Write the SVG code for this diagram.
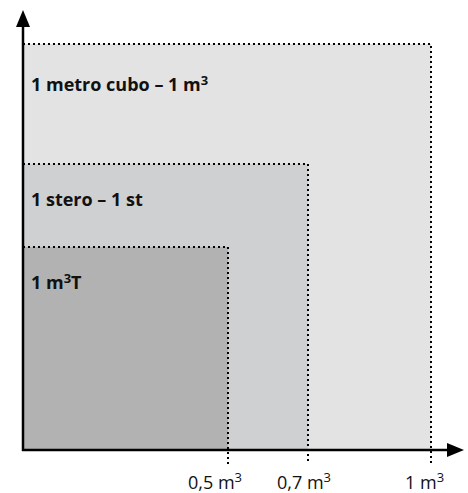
<svg xmlns="http://www.w3.org/2000/svg" width="468" height="493" viewBox="0 0 468 493">
<defs>
<style>
.dot{fill:none;stroke:#000;stroke-width:2;stroke-dasharray:2 3}
.ax{stroke:#000;stroke-width:2.5;fill:none}
.head{fill:#000}
.lbl{font-family:"Open Sans","Noto Sans",sans-serif;font-weight:bold;font-size:18px;fill:#111}
.tick{font-family:"Open Sans","Noto Sans",sans-serif;font-size:18px;fill:#111}
.sup{font-size:13px}
</style>
</defs>
<g id="large"><rect x="23" y="44" width="408" height="406" fill="#e3e3e3"/><path class="dot" d="M23,44 H431 V464"/><text class="lbl" x="31" y="91">1 metro cubo – 1 m<tspan class="sup" dy="-6">3</tspan></text></g>
<g id="medium"><rect x="23" y="164" width="285" height="286" fill="#cfd0d2"/><path class="dot" d="M23,164 H308 V464"/><text class="lbl" x="31" y="206">1 stero – 1 st</text></g>
<g id="small"><rect x="23" y="247" width="205" height="203" fill="#b2b2b2"/><path class="dot" d="M23,247 H228 V464"/><text class="lbl" x="31" y="289">1 m<tspan class="sup" dy="-6">3</tspan><tspan dy="6">T</tspan></text></g>
<g id="axes"><path class="ax" d="M23,451 V24"/><path class="head" d="M23,10 L30,27 L16,27 z"/><path class="ax" d="M22,450 H450"/><path class="head" d="M464,450 L447,443 L447,457 z"/></g>
<g id="ticks"><text class="tick" x="188" y="489">0,5 m<tspan class="sup" dy="-7">3</tspan></text><text class="tick" x="277" y="489">0,7 m<tspan class="sup" dy="-7">3</tspan></text><text class="tick" x="405" y="489">1 m<tspan class="sup" dy="-7">3</tspan></text></g>
</svg>
